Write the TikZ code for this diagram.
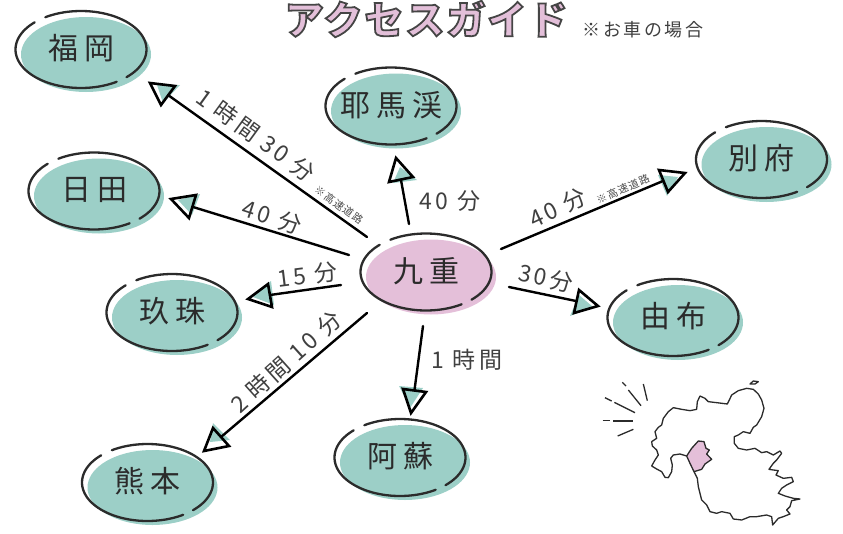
\documentclass[tikz,border=0pt]{standalone}
\usepackage{fontspec}
\setmainfont{Noto Sans CJK JP}
\newfontfamily\placefont[LetterSpace=20]{Noto Sans CJK JP}
\newfontfamily\timefont[LetterSpace=14]{Noto Sans CJK JP}
\newfontfamily\notefont[LetterSpace=10]{Noto Sans CJK JP}
\newfontfamily\titlefont[LetterSpace=5]{Noto Sans CJK JP}
\definecolor{teal0}{HTML}{9CCFC7}
\definecolor{pink0}{HTML}{E4BFD9}
\definecolor{ink}{HTML}{2B2B2B}
\tikzset{
  placelabel/.style={inner sep=0pt,text=ink,font=\placefont\fontsize{30}{30}\selectfont},
  timelabel/.style={inner sep=0pt,text=ink!90,font=\timefont\fontsize{23}{23}\selectfont},
  smallnote/.style={inner sep=0pt,text=ink!85,font=\notefont\fontsize{10.5}{10.5}\selectfont},
  ring/.style={line width=2.3pt,draw=ink,line cap=round},
  connector/.style={line width=2.4pt,draw=black,line cap=round},
  tiphead/.style={line width=2.6pt,draw=black,line join=miter},
  coast/.style={line width=1.3pt,draw=ink,line join=round},
  rays/.style={line width=1.3pt,draw=ink}
}
\newcommand{\placeoval}[5]{%
  % name, cx, cy, colour, text
  \begin{scope}[shift={(#2,#3)}]
    \fill[#4,shift={(5,5)}] plot[domain=0:355,samples=72] ({65*cos(\x)},{37.5*sin(\x)}) -- cycle;
    \draw[ring] plot[domain=237:406,samples=50] ({65.5*cos(\x)},{38.5*sin(\x)});
    \draw[ring] plot[domain=57:225,samples=50] ({65.5*cos(\x)},{38.5*sin(\x)});
  \end{scope}
  \node[placelabel] (#1) at (#2,#3-1) {#5};
}
% name, start, end, tip, b, c, t1, t2, t3
\newcommand{\conn}[9]{%
  \coordinate (#1s) at (#2);
  \coordinate (#1e) at (#3);
  \fill[teal0] (#7) -- (#8) -- (#9) -- cycle;
  \draw[tiphead] (#4) -- (#5) -- (#6) -- cycle;
  \draw[connector] (#1s) -- (#1e);
}
\begin{document}
\begin{tikzpicture}[x=1pt,y=-1pt]
\useasboundingbox (0,0) rectangle (843,533);

\node[inner sep=0pt] (title) at (426,19) {\special{pdf:code 2 Tr 1.8 w 0.89 0.75 0.85 rg 0.27 0.27 0.27 RG}\titlefont\bfseries\fontsize{39}{39}\selectfont アクセスガイド\special{pdf:code 0 Tr 0 g 0 G 1 w}};
\node[inner sep=0pt,text=ink!90,font=\timefont\fontsize{18}{18}\selectfont] (sub) at (643,30) {※お車の場合};

\placeoval{fukuoka}{81}{49.5}{teal0}{福岡}
\placeoval{yabakei}{391}{106}{teal0}{耶馬渓}
\placeoval{beppu}{761.5}{159.5}{teal0}{別府}
\placeoval{hita}{94}{191}{teal0}{日田}
\placeoval{kuju}{426}{272}{pink0}{九重}
\placeoval{yufu}{673}{317.5}{teal0}{由布}
\placeoval{kusu}{172}{312.5}{teal0}{玖珠}
\placeoval{aso}{400}{457.5}{teal0}{阿蘇}
\placeoval{kumamoto}{147.5}{482.5}{teal0}{熊本}

\conn{af}{367,237}{168,95}{150,83}{175,86}{161,105}{157,85}{180,85}{163,103}
\conn{ah}{349,255}{193,207}{171,199}{196,195}{189,218}{178,200}{200,194}{192,215}
\conn{ak}{341,285}{270,295}{248,299}{268,284}{272,307}{253,297}{271,281}{274,305}
\conn{am}{367,313}{221,437}{204,451}{213,428}{229,446}{210,442}{213,423}{230,440}
\conn{aa}{423,326}{414.5,390}{411,413}{403,389}{426,392}{399,386}{423,388}{410,408}
\conn{ay}{409,224}{401,180}{396,158}{413,177}{389,182}{400,167}{417,180}{393,183}
\conn{ab}{501,249}{663,181}{685,173}{659,170}{668,192}{658,175}{678,177}{667,196}
\conn{au}{509,287}{576,301}{598,306}{579,290}{574,313}{579,295}{593,307}{570,316}

\node[timelabel,rotate=-36] (t1) at (256,135) {1 時間 30 分};
\node[smallnote,rotate=-36] (n1) at (339,205) {※高速道路};
\node[timelabel,rotate=-18] (t2) at (272,217) {40 分};
\node[timelabel,rotate=7] (t3) at (307,275) {15 分};
\node[timelabel,rotate=42] (t4) at (286,362) {2 時間 10 分};
\node[timelabel] (t5) at (467,360) {1 時間};
\node[timelabel] (t6) at (450,201) {40 分};
\node[timelabel,rotate=25] (t7) at (558,208) {40 分};
\node[smallnote,rotate=24] (n2) at (623,189) {※高速道路};
\node[timelabel,rotate=-12] (t8) at (546,278) {30分};

\begin{scope}[shift={(590,370)},x=0.3333pt,y=-0.3333pt]
  \draw[coast] (290,258) -- (270,252) -- (250,255) -- (242,265) -- (247,285) -- (245,305) -- (235,323) -- (225,322) -- (215,305) -- (200,297) -- (185,288) -- (195,270) -- (205,255) -- (200,240) -- (187,228) -- (185,215) -- (200,205) -- (195,185) -- (205,172) -- (215,165) -- (220,145) -- (235,125) -- (250,113) -- (275,118) -- (300,122) -- (320,118) -- (322,95) -- (330,78) -- (345,85) -- (355,95) -- (380,98) -- (412,102) -- (418,90) -- (425,75) -- (445,62) -- (470,55) -- (490,58) -- (505,72) -- (515,90) -- (522,115) -- (515,140) -- (500,165) -- (490,172) -- (480,190) -- (460,185) -- (445,195) -- (433,200) -- (433,220) -- (445,235) -- (470,240) -- (495,235) -- (515,248) -- (530,245) -- (550,255) -- (570,243) -- (575,250) -- (560,270) -- (550,280) -- (537,298) -- (550,300) -- (565,302) -- (558,315) -- (580,325) -- (605,322) -- (610,335) -- (590,345) -- (575,355) -- (565,370) -- (585,378) -- (610,385) -- (630,387) -- (605,392) -- (600,410) -- (590,420) -- (600,432) -- (580,440) -- (565,445) -- (548,465) -- (545,440) -- (530,435) -- (500,440) -- (480,440) -- (455,450) -- (430,447) -- (420,430) -- (395,425) -- (380,430) -- (360,425) -- (350,405) -- (335,390) -- (325,350) -- (322,325) -- (312,305);
  \draw[coast,fill=pink0] (290,258) -- (305,235) -- (325,213) -- (342,215) -- (348,235) -- (358,240) -- (350,252) -- (365,268) -- (345,282) -- (335,298) -- (312,305) -- (300,280) -- cycle;
  \draw[coast] (480,42) -- (490,33) -- (505,35) -- (495,42) -- cycle;
  \draw[rays] (97,37) -- (108,48);
  \draw[rays] (115,60) -- (153,107);
  \draw[rays] (160,42) -- (172,92);
  \draw[rays] (45,83) -- (65,93);
  \draw[rays] (73,97) -- (135,128);
  \draw[rays] (38,152) -- (60,152);
  \draw[rays] (70,153) -- (130,153);
  \draw[rays] (83,198) -- (130,178);
\end{scope}
\end{tikzpicture}
\end{document}
